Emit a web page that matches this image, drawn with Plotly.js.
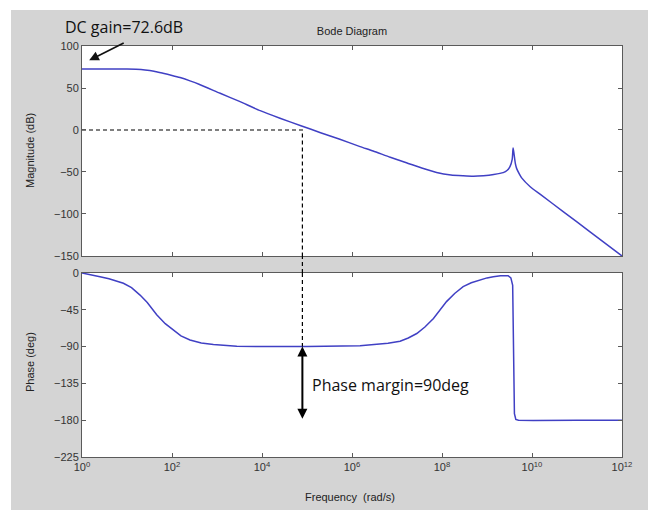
<!DOCTYPE html>
<html>
<head>
<meta charset="utf-8">
<script src="https://cdn.plot.ly/plotly-3.0.1.min.js"></script>
<style>
  html, body { margin: 0; padding: 0; background: #ffffff; }
  #chart { position: absolute; left: 11px; top: 10px; width: 637px; height: 500px; }
</style>
</head>
<body>
<div id="chart"></div>
<script>
// ---- data ----
const magFreq = [1, 3.16, 10, 15.8, 25.1, 39.8, 63.1, 100, 151, 251, 398, 1175, 3162, 9120, 2.51e4, 7.59e4,
  2e5, 5.37e5, 1.51e6, 2.95e6, 7.08e6, 1.62e7, 3.55e7, 7.59e7, 1.58e8, 2.95e8, 5.01e8, 8.32e8,
  1.41e9, 2.29e9, 2.82e9, 3.24e9, 3.63e9, 3.80e9, 3.98e9, 4.27e9, 4.57e9, 5.25e9, 5.89e9, 9.12e9,
  1.51e10, 5.01e10, 1.95e11, 1e12];
const magDb = [72.6, 72.6, 72.5, 72.2, 71.5, 70, 67.5, 65, 62.5, 58.5, 54.5, 43.7, 34, 23, 14, 4.8,
  -3.2, -11, -19.8, -25, -32.5, -39, -45.3, -50.5, -53.5, -54.5, -55, -54.4,
  -53, -50.8, -48, -43.7, -35, -21.5, -28, -40, -46, -52.5, -57, -67.5,
  -76.4, -97.4, -121.2, -150];

const phFreq = [1, 1.58, 2.51, 3.98, 6.31, 8.32, 12.6, 19.5, 28.2, 36.3, 45.7, 70.8, 107, 158, 251,
  447, 832, 1585, 2754, 1e4, 1e5, 1.51e6, 3.55e6, 6.31e6, 1.17e7, 1.78e7, 2.75e7, 4.17e7, 6.46e7,
  8.91e7, 1.26e8, 1.91e8, 2.95e8, 4.47e8, 6.92e8, 1e9, 1.38e9, 2e9, 2.95e9, 3.39e9, 3.72e9,
  3.89e9, 4.07e9, 4.37e9, 5.01e9, 1.07e10, 3.16e10, 1e11, 1e12];
const phDeg = [0, -2, -4.5, -7, -10, -12.6, -18, -27, -36, -44, -51, -62, -70, -77, -82,
  -85.5, -87.5, -89, -89.5, -90, -90, -89, -87.5, -86, -83.4, -79.5, -74, -66, -55.6,
  -46, -35, -25, -16.7, -12, -8.6, -6, -4.5, -3.3, -3.3, -6, -15,
  -120, -172, -179, -180, -180.5, -180, -180, -180];

const xTickVals = [1, 1e2, 1e4, 1e6, 1e8, 1e10, 1e12];
const xTickText = ['10<sup>0</sup>', '10<sup>2</sup>', '10<sup>4</sup>', '10<sup>6</sup>',
  '10<sup>8</sup>', '10<sup>10</sup>', '10<sup>12</sup>'];
const magTicks = [-150, -100, -50, 0, 50, 100];
const phTicks = [-225, -180, -135, -90, -45, 0];

const dcGain = 72.6;           // dB
const gainCrossover = 7.9e4;   // rad/s
const phaseAtCross = -90;      // deg
const phaseMargin = 90;        // deg

// ---- styling ----
const lineColor = '#4040c4';
const axColor = '#5a5a5a';
const labFont = { family: 'Liberation Sans, Arial, sans-serif', size: 11, color: '#222' };
const tickFont = { family: 'Liberation Sans, Arial, sans-serif', size: 11, color: '#333' };
const annFont = { family: 'Open Sans, Noto Sans, sans-serif', size: 16, color: '#111' };
const dashLine = { color: '#000', width: 1.2, dash: '4px,3px' };

const topDomain = [0.4891, 1];
const botDomain = [0, 0.4477];

const traces = [
  { x: magFreq, y: magDb, xaxis: 'x', yaxis: 'y', mode: 'lines',
    line: { color: lineColor, width: 1.5, shape: 'spline', smoothing: 0.6 }, hoverinfo: 'skip' },
  { x: phFreq, y: phDeg, xaxis: 'x2', yaxis: 'y2', mode: 'lines',
    line: { color: lineColor, width: 1.5 }, hoverinfo: 'skip' },
  // dashed guides
  { x: [1, gainCrossover, gainCrossover], y: [0, 0, -150], xaxis: 'x', yaxis: 'y', mode: 'lines',
    line: dashLine, hoverinfo: 'skip' },
  { x: [gainCrossover, gainCrossover], y: [0, phaseAtCross], xaxis: 'x2', yaxis: 'y2', mode: 'lines',
    line: dashLine, hoverinfo: 'skip' }
];

const commonX = {
  type: 'log', range: [0, 12], domain: [0, 1], tickvals: xTickVals, ticktext: xTickText,
  ticks: 'inside', ticklen: 4, tickcolor: axColor, showline: true, linecolor: axColor, linewidth: 1,
  mirror: 'ticks', showgrid: false, zeroline: false, tickfont: tickFont
};
const commonY = {
  ticks: 'inside', ticklen: 4, tickcolor: axColor, showline: true, linecolor: axColor, linewidth: 1,
  mirror: 'ticks', showgrid: false, zeroline: false, tickfont: tickFont
};

const layout = {
  width: 637, height: 500,
  paper_bgcolor: '#d4d4d4', plot_bgcolor: '#ffffff',
  margin: { l: 71, r: 26, t: 36, b: 53 },
  showlegend: false,
  title: { text: 'Bode Diagram', x: 0.5, xref: 'paper', y: 0.958, yanchor: 'middle', font: labFont },
  xaxis: Object.assign({}, commonX, { anchor: 'y', showticklabels: false }),
  yaxis: Object.assign({}, commonY, { domain: topDomain, range: [-150, 100], tickvals: magTicks }),
  xaxis2: Object.assign({}, commonX, { anchor: 'y2' }),
  yaxis2: Object.assign({}, commonY, { domain: botDomain, range: [-225, 0], tickvals: phTicks }),
  shapes: [
    Object.assign({ type: 'line', xref: 'x', yref: 'paper', x0: gainCrossover, x1: gainCrossover,
      y0: botDomain[1], y1: topDomain[0] }, { line: dashLine })
  ],
  annotations: [
    // axis titles
    { xref: 'paper', yref: 'paper', x: 0.496, y: -0.0973, xanchor: 'center', yanchor: 'middle',
      text: 'Frequency &nbsp;(rad/s)', showarrow: false, font: labFont },
    { xref: 'paper', yref: 'paper', x: -0.0963, y: 0.747, xanchor: 'center', yanchor: 'middle',
      text: 'Magnitude (dB)', textangle: -90, showarrow: false, font: labFont },
    { xref: 'paper', yref: 'paper', x: -0.0963, y: 0.231, xanchor: 'center', yanchor: 'middle',
      text: 'Phase (deg)', textangle: -90, showarrow: false, font: labFont },
    // callouts
    { xref: 'paper', yref: 'paper', x: -0.035, y: 1.046, xanchor: 'left', yanchor: 'middle',
      text: 'DC gain=' + dcGain + 'dB', showarrow: false, font: annFont },
    { xref: 'x', yref: 'y', x: 0.16, y: 83, ax: 36, ay: -18, text: '', showarrow: true,
      arrowhead: 2, arrowsize: 1.2, arrowwidth: 1.6, arrowcolor: '#111' },
    { xref: 'x2', yref: 'y2', x: Math.log10(gainCrossover), y: phaseAtCross,
      axref: 'x2', ayref: 'y2', ax: Math.log10(gainCrossover), ay: phaseAtCross - phaseMargin,
      text: '', showarrow: true, arrowside: 'end+start', arrowhead: 2, startarrowhead: 2,
      arrowsize: 1, startarrowsize: 1, arrowwidth: 2, arrowcolor: '#000' },
    { xref: 'x2', yref: 'y2', x: Math.log10(gainCrossover), y: -137, xanchor: 'left', xshift: 8,
      text: 'Phase margin=' + phaseMargin + 'deg', showarrow: false, font: annFont }
  ]
};

Plotly.newPlot('chart', traces, layout, { staticPlot: true, displayModeBar: false });
</script>
</body>
</html>
